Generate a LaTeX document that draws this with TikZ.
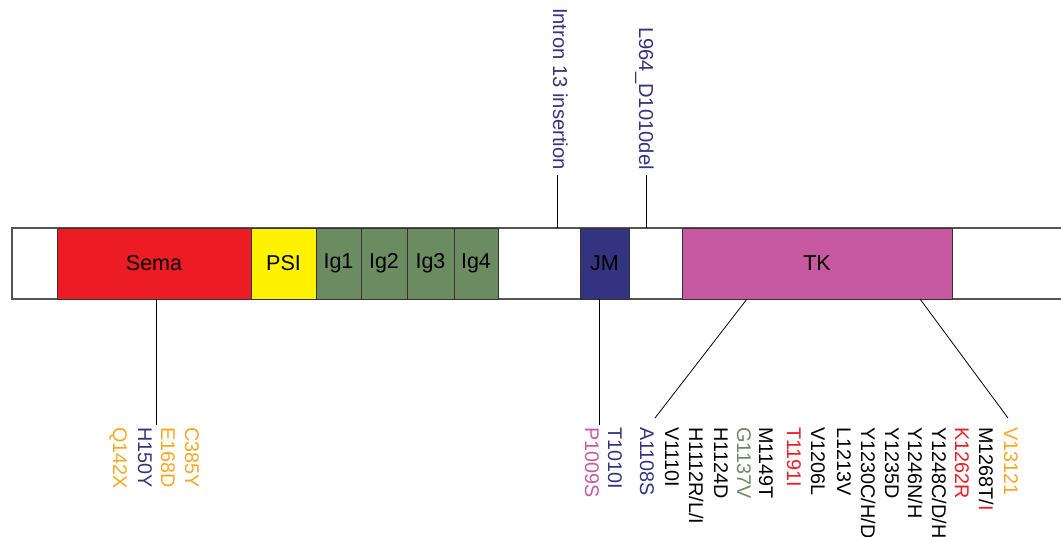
\documentclass[tikz,border=0pt]{standalone}
\usepackage{fontspec}
\setmainfont{Liberation Sans}
\usetikzlibrary{positioning}

\definecolor{semared}{RGB}{237,28,36}
\definecolor{psiyellow}{RGB}{255,242,0}
\definecolor{iggreen}{RGB}{107,139,96}
\definecolor{jmnavy}{RGB}{51,51,128}
\definecolor{tkpink}{RGB}{198,89,160}
\definecolor{mutorange}{RGB}{247,168,35}
\definecolor{barline}{RGB}{85,85,85}

\tikzset{
  dombox/.style={draw=black!80, line width=0.9pt, minimum height=71pt, inner sep=0pt,
    outer sep=0pt, anchor=north west, font=\fontsize{21.5}{24}\selectfont},
  mut/.style={rotate=-90, anchor=west, inner sep=0pt, text height=14pt, text depth=0pt,
    font=\fontsize{19.8}{22}\selectfont},
  site/.style={rotate=-90, anchor=east, inner sep=0pt, text height=14pt, text depth=0pt,
    font=\fontsize{20.2}{22}\selectfont, text=jmnavy},
  hit/.style={line width=0.8pt, black}
}

\begin{document}
\begin{tikzpicture}[x=1pt, y=-1pt]
\useasboundingbox (0,0) rectangle (1061,537);

% the receptor bar
\draw[barline, line width=1.1pt] (1061,228) -- (12,228) -- (12,299) -- (1061,299);

% domains
\node[dombox, fill=semared, minimum width=194pt] (sema) at (57,228) {Sema};
\node[dombox, fill=psiyellow, minimum width=65pt, right=0pt of sema.north east, anchor=north west] (psi) {PSI};
\foreach \i/\w/\prev in {1/45/psi, 2/46/ig1, 3/47/ig2, 4/44/ig3}
  \node[dombox, fill=iggreen, minimum width=\w pt, anchor=north west] (ig\i) at (\prev.north east) {Ig\i};
\node[dombox, fill=jmnavy, minimum width=49pt] (jm) at (580,228) {JM};
\node[dombox, fill=tkpink, minimum width=270pt] (tk) at (682,228) {TK};

% sites on the bar
\coordinate (insBar) at (557,228);
\coordinate (insTop) at (557,175);
\coordinate (delBar) at (646,228);
\coordinate (delTop) at (646,175);
\coordinate (semaBar) at (156,299);
\coordinate (semaEnd) at (156,425);
\coordinate (jmBar) at (599,299);
\coordinate (jmEnd) at (599,425);
\coordinate (tkBarA) at (747,299);
\coordinate (tkEndA) at (655,418);
\coordinate (tkBarB) at (920,299);
\coordinate (tkEndB) at (1008,418);

\node[site] (intron) at (560,170) {Intron 13 insertion};
\node[site] (exdel) at (646,170) {L964\_D1010del};

\draw[hit] (insBar) -- (insTop);
\draw[hit] (delBar) -- (delTop);
\draw[hit] (semaBar) -- (semaEnd);
\draw[hit] (jmBar) -- (jmEnd);
\draw[hit] (tkBarA) -- (tkEndA);
\draw[hit] (tkBarB) -- (tkEndB);

% mutations
\foreach \lab/\x/\col in {Q142X/120/mutorange, H150Y/145/jmnavy, E168D/168/mutorange,
    C385Y/192/mutorange, P1009S/592/tkpink, T1010I/615/jmnavy, A1108S/647/jmnavy,
    V1110I/672/black, {H1112R/L/I}/696/black, H1124D/721/black, G1137V/744/iggreen,
    M1149T/766/black, T1191I/794/semared, V1206L/818/black, L1213V/844/black,
    {Y1230C/H/D}/868/black, Y1235D/892/black, {Y1246N/H}/915/black,
    {Y1248C/D/H}/939/black, K1262R/962/semared,
    {M1268T/\textcolor{semared}{I}}/986/black, V13121/1011/mutorange}
  \node[mut, text=\col] (lab\x) at (\x,427) {\lab};
\end{tikzpicture}
\end{document}
